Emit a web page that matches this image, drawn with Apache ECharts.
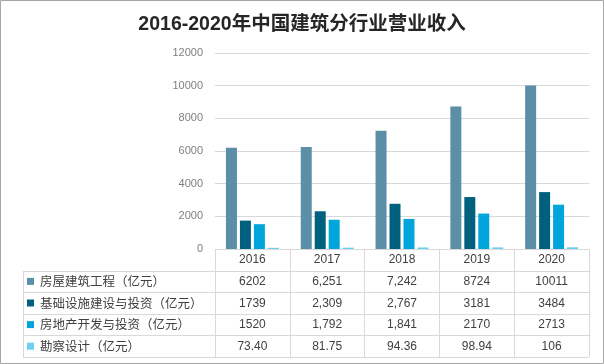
<!DOCTYPE html>
<html>
<head>
<meta charset="utf-8">
<script src="https://cdn.jsdelivr.net/npm/echarts@6/dist/echarts.min.js"></script>
<style>html,body{margin:0;padding:0;background:#fff}#c{width:604px;height:364px}</style>
</head>
<body>
<div id="c"></div>
<script>
const titleText = '2016-2020年中国建筑分行业营业收入';
const years = ['2016', '2017', '2018', '2019', '2020'];
const seriesNames = ['房屋建筑工程（亿元）', '基础设施建设与投资（亿元）', '房地产开发与投资（亿元）', '勘察设计（亿元）'];
const housing = [6202, 6251, 7242, 8724, 10011];
const infra = [1739, 2309, 2767, 3181, 3484];
const realEstate = [1520, 1792, 1841, 2170, 2713];
const survey = [73.40, 81.75, 94.36, 98.94, 106];
const housingLabels = ['6202', '6,251', '7,242', '8724', '10011'];
const infraLabels = ['1739', '2,309', '2,767', '3181', '3484'];
const realEstateLabels = ['1520', '1,792', '1,841', '2170', '2713'];
const surveyLabels = ['73.40', '81.75', '94.36', '98.94', '106'];
const yMin = 0, yMax = 12000, yStep = 2000;

const colors = ['#5B8FA8', '#00617F', '#00A5DB', '#6CCFF3'];
const W = 604, H = 364;
const gL = 215, gR = 589, gT = 53, axisY = 249;
const rowH = 21.6;
const tableLeft = 23;
const gridLine = '#D9D9D9';
const txt = '#404040';
const font = '"Liberation Sans", "Noto Sans CJK SC", sans-serif';

const allData = [housing, infra, realEstate, survey];
const rowLabels = [housingLabels, infraLabels, realEstateLabels, surveyLabels];

const xAxes = [{
  type: 'category', data: years, gridIndex: 0,
  axisLine: { show: true, lineStyle: { color: gridLine, width: 1 } },
  axisTick: { show: true, length: rowH * 5, lineStyle: { color: gridLine } },
  axisLabel: { margin: 5, color: txt, fontSize: 12, fontFamily: font, lineHeight: 12 },
  splitLine: { show: false }
}];
rowLabels.forEach((lbls, i) => {
  xAxes.push({
    type: 'category', data: lbls, gridIndex: 0, position: 'bottom',
    offset: rowH * (i + 1),
    axisLine: { show: false }, axisTick: { show: false },
    axisLabel: { margin: 5, color: txt, fontSize: 12, fontFamily: font, lineHeight: 12 },
    splitLine: { show: false }
  });
});

const graphics = [
  { type: 'rect', shape: { x: 0.5, y: 0.5, width: W - 1, height: H - 1 }, style: { fill: 'none', stroke: '#A6A6A6', lineWidth: 1 }, silent: true }
];
for (let r = 1; r <= 5; r++) {
  const y = Math.round(axisY + rowH * r) + 0.5;
  graphics.push({ type: 'line', shape: { x1: tableLeft, y1: y, x2: gR, y2: y }, style: { stroke: gridLine, lineWidth: 1 }, silent: true });
}
graphics.push({ type: 'line', shape: { x1: tableLeft + 0.5, y1: Math.round(axisY + rowH) + 0.5, x2: tableLeft + 0.5, y2: Math.round(axisY + rowH * 5) + 0.5 }, style: { stroke: gridLine, lineWidth: 1 }, silent: true });

const chart = echarts.init(document.getElementById('c'), null, { renderer: 'canvas' });
chart.setOption({
  animation: false,
  backgroundColor: '#fff',
  color: colors,
  title: {
    text: titleText, left: 'center', top: 10,
    textStyle: { fontSize: 19.5, fontWeight: 'bold', color: '#262626', fontFamily: '"Liberation Sans", "Noto Sans CJK SC", sans-serif' }
  },
  legend: {
    orient: 'vertical', left: 27, top: axisY + rowH + rowH / 2 - 7,
    padding: 0,
    itemWidth: 7, itemHeight: 7, itemGap: rowH - 14,
    icon: 'rect',
    data: seriesNames,
    textStyle: { fontSize: 12.5, color: txt, fontFamily: '"Noto Sans CJK SC", sans-serif', lineHeight: 14, padding: [0, 0, 0, 1] },
    selectedMode: false
  },
  grid: { left: gL, right: W - gR, top: gT, bottom: H - axisY, containLabel: false },
  xAxis: xAxes,
  yAxis: {
    type: 'value', min: yMin, max: yMax, interval: yStep,
    axisLine: { show: false }, axisTick: { show: false },
    axisLabel: { margin: 12, color: '#7F7F7F', fontSize: 11, fontFamily: font, formatter: v => String(v) },
    splitLine: { lineStyle: { color: gridLine, width: 1 } }
  },
  series: seriesNames.map((n, i) => ({
    name: n, type: 'bar', xAxisIndex: 0, data: allData[i],
    barWidth: 11, barGap: '27%',
    itemStyle: { color: colors[i] }
  })),
  graphic: graphics
});
</script>
</body>
</html>
